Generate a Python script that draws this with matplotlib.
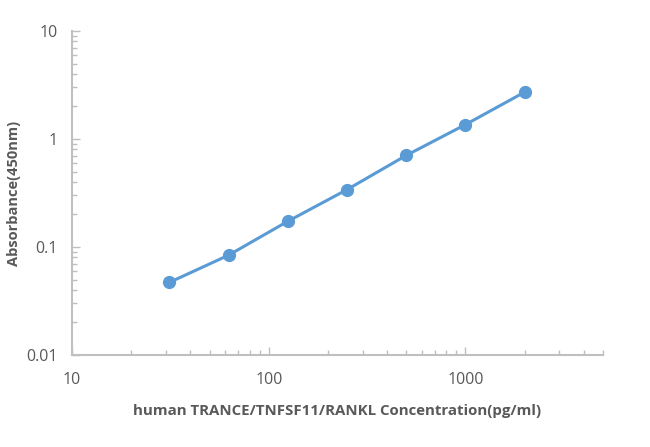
import matplotlib.pyplot as plt
from matplotlib.ticker import LogLocator, FixedLocator, NullFormatter

concentration = [31.25, 62.5, 125, 250, 500, 1000, 2000]
absorbance = [0.047, 0.084, 0.173, 0.340, 0.705, 1.36, 2.72]

x_ticks = [10, 100, 1000]
x_labels = ["10", "100", "1000"]
y_ticks = [0.01, 0.1, 1, 10]
y_labels = ["0.01", "0.1", "1", "10"]

blue = "#5B9BD5"
grey = "#BFBFBF"
text = "#595959"

plt.rcParams['font.family'] = ['Open Sans', 'DejaVu Sans']

fig = plt.figure(figsize=(6.5, 4.47), dpi=100)
ax = fig.add_axes([72 / 650, 1 - 355 / 447, 531 / 650, 324 / 447])

ax.plot(concentration, absorbance, color=blue, lw=2.2, marker='o',
        markersize=8.5, solid_capstyle='round')

ax.set_xscale('log')
ax.set_yscale('log')
ax.set_xlim(10, 5000)
ax.set_ylim(0.01, 10)

ax.xaxis.set_major_locator(FixedLocator(x_ticks))
ax.set_xticklabels(x_labels)
ax.yaxis.set_major_locator(FixedLocator(y_ticks))
ax.set_yticklabels(y_labels)
ax.xaxis.set_minor_locator(LogLocator(base=10, subs=range(2, 10)))
ax.yaxis.set_minor_locator(LogLocator(base=10, subs=range(2, 10)))
ax.xaxis.set_minor_formatter(NullFormatter())
ax.yaxis.set_minor_formatter(NullFormatter())

for side in ['top', 'right']:
    ax.spines[side].set_visible(False)
for side in ['left', 'bottom']:
    ax.spines[side].set_color(grey)
    ax.spines[side].set_linewidth(1.5)

ax.tick_params(which='major', direction='in', length=6, width=1, color=grey,
               labelsize=11.5, labelcolor=text)
ax.tick_params(which='minor', direction='in', length=3.5, width=1, color=grey)
ax.tick_params(axis='x', which='major', pad=12)
ax.tick_params(axis='y', which='major', pad=10)

ax.set_xlabel("human TRANCE/TNFSF11/RANKL Concentration(pg/ml)",
              fontsize=10.8, fontweight='bold', color=text, labelpad=12)
ax.set_ylabel("Absorbance(450nm)", fontsize=10.5, fontweight='bold',
              color=text, labelpad=4)

fig.savefig("out.png", dpi=100)
